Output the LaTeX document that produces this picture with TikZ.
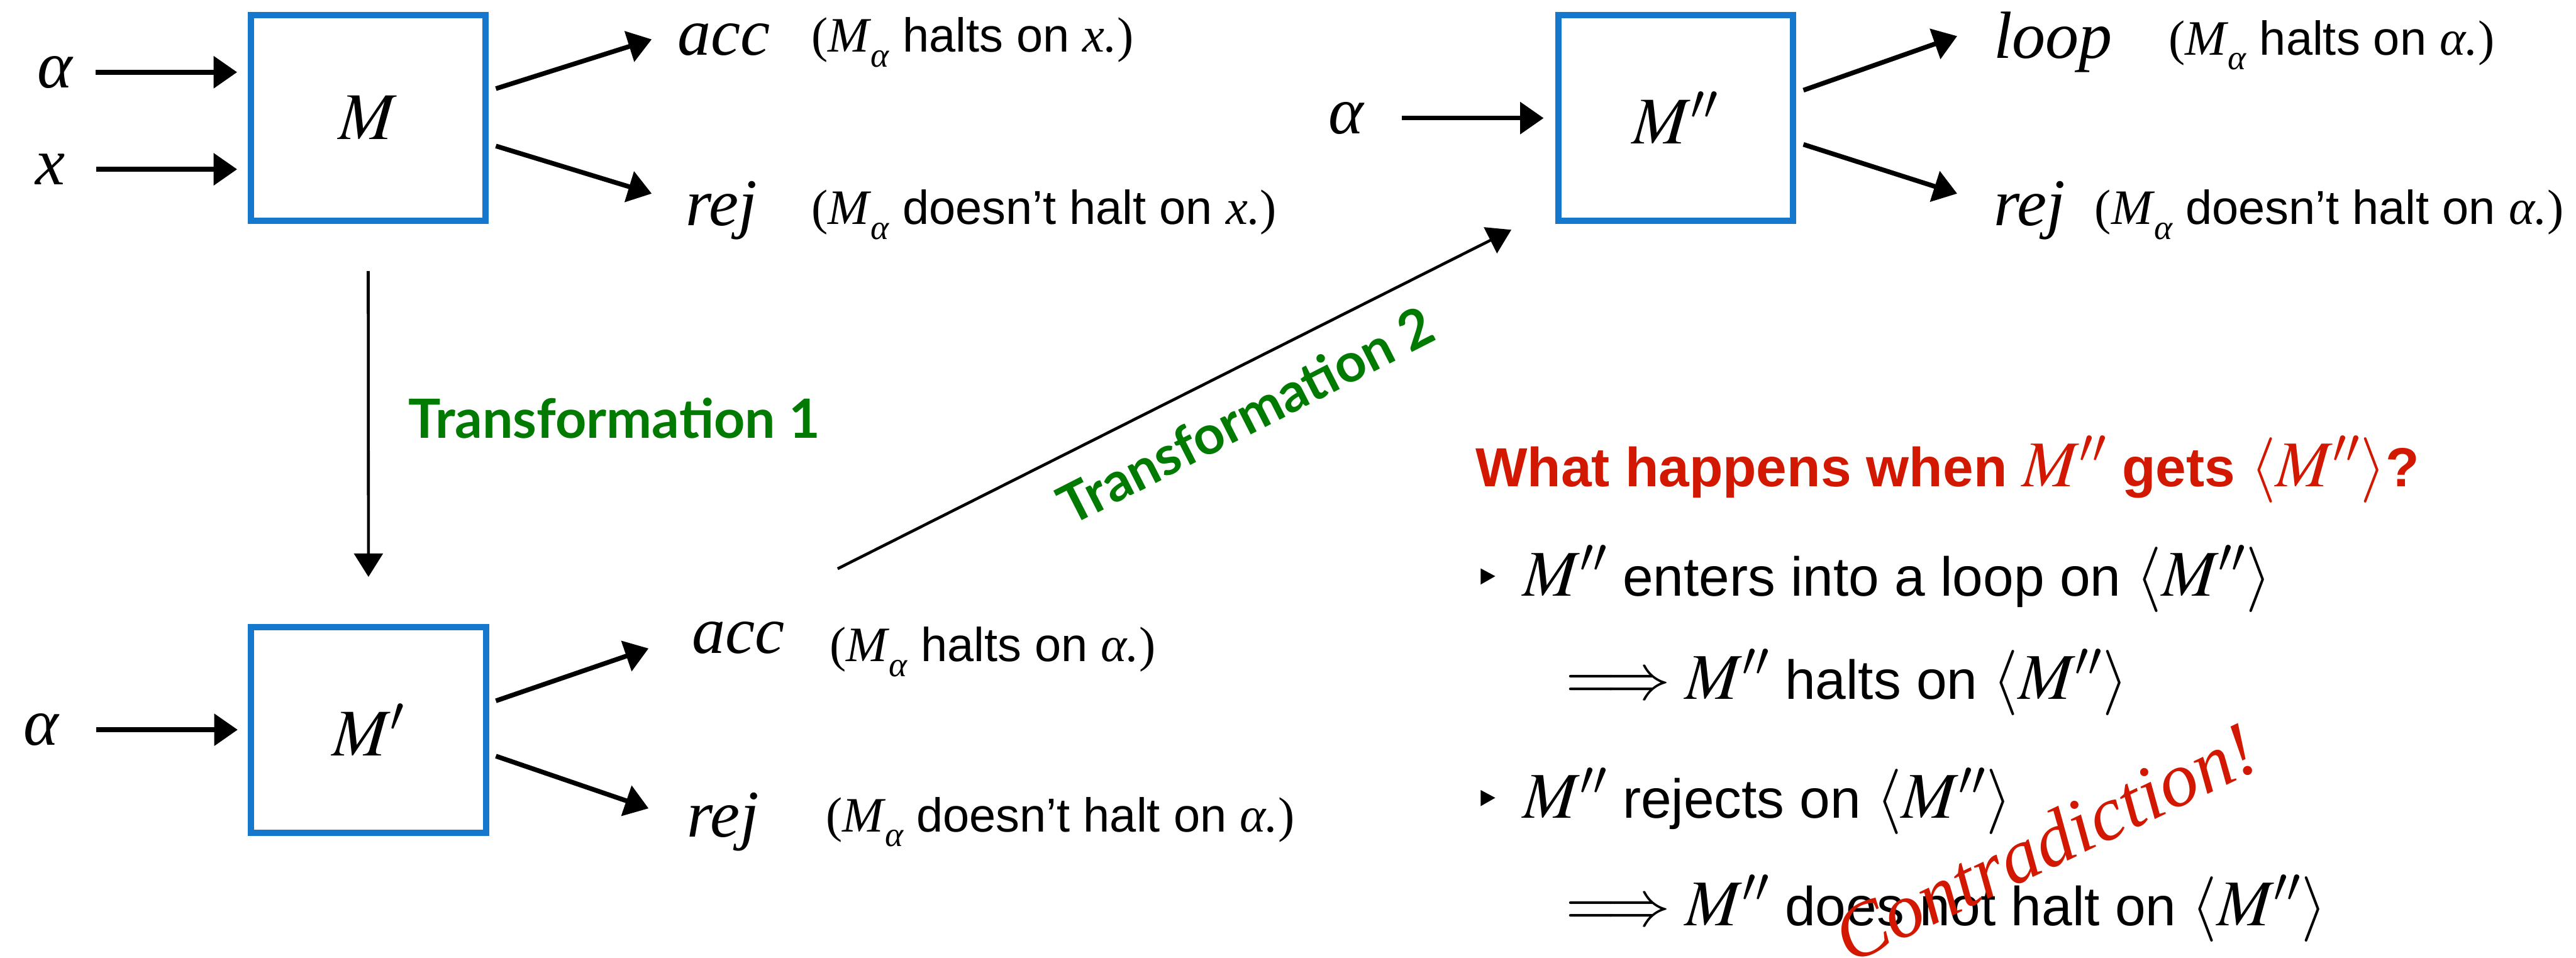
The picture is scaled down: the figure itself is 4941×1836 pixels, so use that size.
\documentclass[tikz,border=0pt]{standalone}
\usepackage{mathptmx}
\usepackage[no-math]{fontspec}
\setmainfont{Liberation Sans}
\newfontfamily\latofont{Lato}
\newfontfamily\timesfont{Liberation Serif}
\usetikzlibrary{arrows.meta,calc}

\definecolor{boxblue}{RGB}{22,120,205}
\definecolor{tgreen}{RGB}{0,122,0}
\definecolor{hred}{RGB}{210,24,0}

\newcommand\dgmath{\fontsize{36.4}{44}\selectfont}
\newcommand\dgital{\timesfont\itshape\fontsize{36.4}{44}\selectfont}
\newcommand\lblmath{\fontsize{27}{32}\selectfont}
\newcommand\lbltext{\fontsize{26}{32}\selectfont}
\newcommand\pnltext{\fontsize{30}{36}\selectfont}
\newcommand\pnlmath{\fontsize{35.6}{42}\selectfont}
% (M_alpha  ... and  ... x.)
\newcommand\lopen{{\lblmath\timesfont(\itshape M\kern0.03em\raisebox{-0.3em}{\fontsize{19}{22}\selectfont α}}}
\newcommand\lclose[1]{{\lblmath\timesfont\itshape #1.\upshape)}}
\newcommand\pmt[1]{{\pnlmath$#1$}}

\tikzset{
  box/.style={draw=boxblue, line width=0.12cm, minimum width=4.5cm, minimum height=3.95cm, inner sep=0pt, font=\dgmath},
  arr/.style={line width=0.09cm, -{Triangle[length=0.45cm,width=0.6cm]}},
  tarr/.style={line width=0.055cm, -{Triangle[length=0.45cm,width=0.55cm]}},
  txt/.style={inner sep=0pt, outer sep=0pt},
  mlab/.style={txt, font=\dgital},
  slab/.style={txt, anchor=base west, font=\lbltext},
  green/.style={txt, text=tgreen, font=\latofont\bfseries\fontsize{29.5}{34}\selectfont},
  pline/.style={txt, anchor=base west, font=\pnltext},
}

\begin{document}
\begin{tikzpicture}[x=0.01cm, y=-0.01cm]
\useasboundingbox (0,0) rectangle (4941,1836);

% ---------- machine M ----------
\node[box] (M) at (706,226) {$M$};
\node[mlab, anchor=base] (a1) at (105,168) {α};
\node[mlab, anchor=base] (x1) at (96,354) {x};
\draw[arr, shorten >=0.2cm] ([xshift=0.45cm]a1.east) -- (a1.east -| M.west);
\draw[arr, shorten >=0.2cm] ([xshift=0.6cm]x1.east) -- (x1.east -| M.west);
\node[mlab, anchor=base west] (acc1) at (1300,105) {acc};
\node[mlab, anchor=base west] (rej1) at (1315,433) {rej};
\draw[arr] ($(M.east)+(14,-56)$) -- ($(acc1.west)+(-50,0)$);
\draw[arr] ($(M.east)+(14,54)$) -- ($(rej1.west)+(-65,-33)$);
\node[slab] (lacc1) at (1557,100) {\lopen{} halts on \lclose{x}};
\node[slab] (lrej1) at (1557,430) {\lopen{} doesn’t halt on \lclose{x}};

% ---------- machine M' ----------
\node[box] (M1) at (707,1400) {$M'$};
\node[mlab, anchor=base] (a2) at (79,1429) {α};
\draw[arr, shorten >=0.2cm] ([xshift=0.72cm]a2.east) -- (a2.east -| M1.west);
\node[mlab, anchor=base west] (acc2) at (1327,1253) {acc};
\node[mlab, anchor=base west] (rej2) at (1318,1605) {rej};
\draw[arr] ($(M1.east)+(13,-56)$) -- ($(acc2.west)+(-83,20)$);
\draw[arr] ($(M1.east)+(13,50)$) -- ($(rej2.west)+(-74,-26)$);
\node[slab] (lacc2) at (1592,1269) {\lopen{} halts on \lclose{α}};
\node[slab] (lrej2) at (1584,1595) {\lopen{} doesn’t halt on \lclose{α}};

% ---------- machine M'' ----------
\node[box] (M2) at (3214,226) {$M''$};
\node[mlab, anchor=base] (a3) at (2582,256) {α};
\draw[arr, shorten >=0.22cm] ([xshift=0.73cm]a3.east) -- (a3.east -| M2.west);
\node[mlab, anchor=base west] (loop) at (3824,112) {loop};
\node[mlab, anchor=base west] (rej3) at (3824,433) {rej};
\draw[arr] ($(M2.east)+(14,-53)$) -- ($(loop.west)+(-70,-12)$);
\draw[arr] ($(M2.east)+(14,51)$) -- ($(rej3.west)+(-70,-33)$);
\node[slab] (lloop) at (4160,105) {\lopen{} halts on \lclose{α}};
\node[slab] (lrej3) at (4018,430) {\lopen{} doesn’t halt on \lclose{α}};

% ---------- transformations ----------
\draw[tarr, shorten <=0.9cm, shorten >=0.9cm] (M) -- (M1);
\node[green, anchor=base west] (t1) at (783,840) {Transformation 1};
\draw[tarr] ($(acc2.north east)+(102,-102)$) -- ($(M2.south west)+(-84,11)$);
\node[green, anchor=base, rotate=27] (t2) at (2406,830) {Transformation 2};

% ---------- right panel ----------
\node[pline, text=hred, font=\pnltext\bfseries] (q) at (2830,933)
  {What happens when \pmt{M''} gets \pmt{\langle M''\rangle}?};
\fill (2840,1090) -- (2868,1105) -- (2840,1121) -- cycle;
\node[pline] (b1) at (2921,1143) {\pmt{M''} enters into a loop on \pmt{\langle M''\rangle}};
\node[pline] (b1i) at (3003,1341) {\pmt{\Longrightarrow M''} halts on \pmt{\langle M''\rangle}};
\fill (2840,1515) -- (2868,1530) -- (2840,1546) -- cycle;
\node[pline] (b2) at (2921,1569) {\pmt{M''} rejects on \pmt{\langle M''\rangle}};
\node[pline] (b2i) at (3003,1775) {\pmt{\Longrightarrow M''} does not halt on \pmt{\langle M''\rangle}};

\node[txt, anchor=base west, rotate=25.5, text=hred, font=\timesfont\itshape\fontsize{42}{48}\selectfont] (contra) at (3548,1850) {Contradiction!};
\end{tikzpicture}
\end{document}
